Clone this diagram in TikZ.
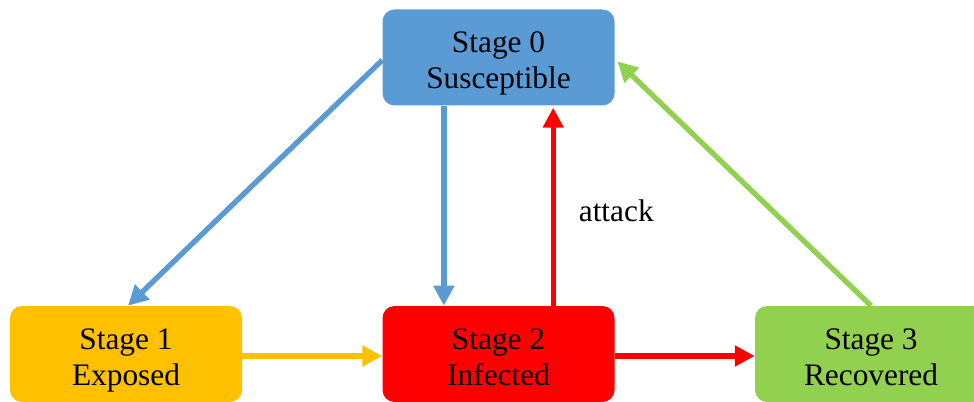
\documentclass[tikz,border=0pt]{standalone}
\usepackage{fontspec}
\setmainfont{Liberation Serif}
\usepackage{xcolor}
\usetikzlibrary{arrows.meta,positioning}
\definecolor{stblue}{HTML}{5B9BD5}
\definecolor{storange}{HTML}{FFC000}
\definecolor{stred}{HTML}{FF0000}
\definecolor{stgreen}{HTML}{92D050}
\tikzset{
	stage/.style={
		fill=#1, rounded corners=9pt, inner sep=0pt,
		minimum width=174pt, minimum height=72pt, align=center,
		text height=46.5pt, text depth=0pt,
		font=\fontsize{23.5}{27}\selectfont},
	tr/.style={draw=#1, line width=4pt,
		-{Triangle[length=15pt,width=15pt]}},
	lbl/.style={font=\fontsize{23.5}{27}\selectfont, inner sep=0pt}
}

\begin{document}
\begin{tikzpicture}[x=.75pt, y=.75pt, node distance=140 and 140]
   \clip (0,0) rectangle (974,401);
   \node[stage=storange] (s1) at (126,47) {Stage 1\\Exposed};
   \node[stage=stred, right=of s1] (s2) {Stage 2\\Infected};
   \node[stage=stgreen, right=of s2] (s3) {Stage 3\\Recovered};
   \node[stage=stblue, above=200 of s2] (s0) {Stage 0\\Susceptible};
   % transitions (shifts in pt)
   \draw[tr=stblue] ([yshift=-2pt]s0.west) -- ([xshift=1.5pt]s1.north);
   \draw[tr=stblue] ([xshift=-41pt]s0.south) -- ([xshift=-41pt]s2.north);
   \draw[tr=stred] ([xshift=41pt]s2.north) -- node[lbl, pos=.48, right=23] (atk) {attack} ([xshift=41pt,yshift=-1.5pt]s0.south);
   \draw[tr=stgreen] (s3.north) -- ([xshift=2pt,yshift=-3pt]s0.east);
   \draw[tr=storange] ([yshift=-1.5pt]s1.east) -- ([yshift=-1.5pt]s2.west);
   \draw[tr=stred] ([yshift=-1.5pt]s2.east) -- ([yshift=-1.5pt]s3.west);
\end{tikzpicture}
\end{document}
